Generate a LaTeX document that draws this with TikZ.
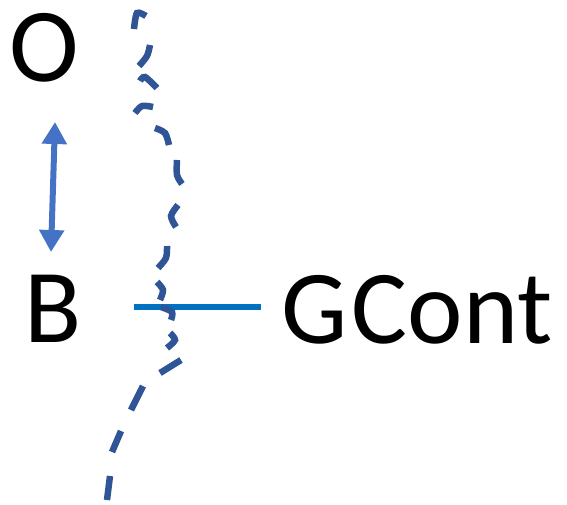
\documentclass[tikz,border=0pt]{standalone}
\usepackage{fontspec}
\setmainfont{Carlito}
\usetikzlibrary{arrows.meta}
\definecolor{arrowblue}{HTML}{4472C4}
\definecolor{lineblue}{HTML}{0070C0}
\definecolor{dashblue}{HTML}{2F5597}
\tikzset{
  bigtext/.style={inner sep=0pt, anchor=base, font=\fontsize{105}{110}\selectfont},
  dashseg/.style={draw=dashblue, line width=6.5pt},
  dblarrow/.style={draw=arrowblue, fill=arrowblue, line width=6pt, {Triangle[length=22pt,width=24pt]}-{Triangle[length=22pt,width=24pt]}},
  hline/.style={draw=lineblue, line width=6pt}
}
\begin{document}
\begin{tikzpicture}[x=1pt,y=-1pt]
\useasboundingbox (0,0) rectangle (567,504);
\node[bigtext] (O) at (44,81) {O};
\node[bigtext] (B) at (53.5,342) {B};
\node[bigtext] (G) at (417,343) {G\kern4ptCont};
\coordinate (a1) at (55,122);
\coordinate (a2) at (51,252);
\draw[dblarrow] (a1) -- (a2);
\coordinate (h1) at (134,306.5);
\coordinate (h2) at (261,306.5);
\draw[hline] (h1) -- (h2);
% hand-drawn dashed curve, one dash at a time
\draw[dashseg] plot[smooth] coordinates {(146,16) (137,13) (134,29)};
\draw[dashseg] plot[smooth] coordinates {(150,45) (147,56) (139,66)};
\draw[dashseg] plot[smooth] coordinates {(140,81) (145,77) (157,88)};
\draw[dashseg] plot[smooth] coordinates {(153,107) (142,106) (135,113)};
\draw[dashseg] plot[smooth] coordinates {(155,128) (165,133) (169,145)};
\draw[dashseg] plot[smooth] coordinates {(177,160) (177,175) (182,184)};
\draw[dashseg] plot[smooth] coordinates {(178,205) (171,216) (176,227)};
\draw[dashseg] plot[smooth] coordinates {(167,246) (166,258) (158,268)};
\draw[dashseg] plot[smooth] coordinates {(157,282) (163,290) (160,300)};
\draw[dashseg] plot[smooth] coordinates {(161,307) (172,312) (171,320)};
\draw[dashseg] plot[smooth] coordinates {(170,333) (175,340) (167,348)};
\draw[dashseg] plot[smooth] coordinates {(181,360) (160,373)};
\draw[dashseg] plot[smooth] coordinates {(143,386) (131,410)};
\draw[dashseg] plot[smooth] coordinates {(121,431) (112,452)};
\draw[dashseg] plot[smooth] coordinates {(110,476) (107,500)};
\end{tikzpicture}
\end{document}
